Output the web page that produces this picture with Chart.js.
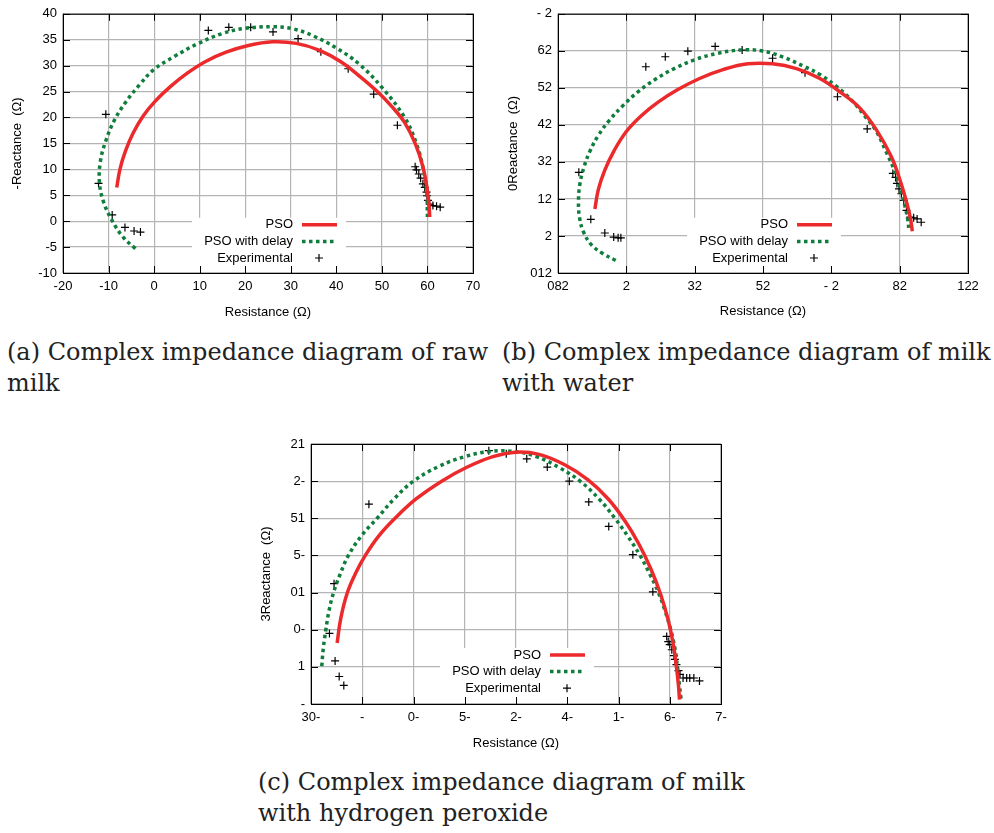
<!DOCTYPE html>
<html>
<head>
<meta charset="utf-8">
<script src="https://cdn.jsdelivr.net/npm/chart.js@4.4.0/dist/chart.umd.min.js"></script>
<style>
  body { margin: 0; background: #fff; width: 994px; height: 833px; position: relative; overflow: hidden; }
  canvas { position: absolute; }
  .cap { position: absolute; font-family: 'DejaVu Serif', serif; font-size: 24px; line-height: 31px; color: #222; white-space: nowrap; }
</style>
</head>
<body>
<canvas id="rawChart" width="490" height="330" style="left:0;top:0"></canvas>
<canvas id="waterChart" width="504" height="330" style="left:490px;top:0"></canvas>
<canvas id="peroxChart" width="490" height="330" style="left:255px;top:430px"></canvas>

<div class="cap" style="left:7px;top:337px">(a) Complex impedance diagram of raw<br>milk</div>
<div class="cap" style="left:502px;top:337px">(b) Complex impedance diagram of milk<br>with water</div>
<div class="cap" style="left:258px;top:767px">(c) Complex impedance diagram of milk<br>with hydrogen peroxide</div>

<script>
// (a) raw milk: resistance (R) and -reactance (X)
const rawPsoR   = [-8.2, -7.5, -6.3, -4.6, -2.4, 0.3, 3.5, 7.2, 11.3, 15.8, 20.7, 26, 31.2, 36.2, 40.9, 45.2, 49, 52.3, 55, 57.3, 59, 60, 60.4, 60.5];
const rawPsoX   = [6.5, 10, 13.5, 17, 20.3, 23.2, 25.9, 28.5, 30.8, 32.6, 33.9, 34.6, 34.3, 33, 30.8, 27.9, 25, 22, 19, 15, 10.5, 5.8, 2.5, 0.8];
const rawDelayR = [-4.1, -6.8, -9.4, -11.2, -12, -11.8, -10.6, -8.7, -6.2, -3.2, 0, 4.5, 9.5, 15, 20, 26, 30.5, 35, 40, 45, 50, 55, 57.6, 59, 59.8, 60];
const rawDelayX = [-5.3, -3.1, 0.4, 4, 7.5, 11.5, 15.5, 19.5, 23, 26.3, 29.3, 31.8, 34.2, 36.2, 37.2, 37.5, 37.1, 35.7, 33.4, 30.3, 25.8, 20, 14.9, 10.4, 5.9, 0.8];
const rawExpR   = [-10.6, -12.2, -9.2, -6.4, -4.4, -3, 11.9, 16.4, 21.2, 26.1, 31.6, 36.6, 42.6, 48.2, 53.4,
                   57.3, 57.6, 58.1, 58.5, 59, 59.4, 59.8, 59.9, 60.1, 60.5, 61.2, 62, 62.8];
const rawExpX   = [20.6, 7.3, 1.2, -1.2, -1.9, -2.1, 36.8, 37.4, 37.4, 36.5, 35.2, 32.7, 29.4, 24.5, 18.5,
                   10.5, 9.9, 9.1, 8.3, 7.2, 6.5, 5.6, 4.9, 4, 3.3, 3, 2.9, 2.7];
const rawTickR  = ['-20', '-10', '0', '10', '20', '30', '40', '50', '60', '70'];
const rawTickX  = ['-10', '-5', '0', '5', '10', '15', '20', '25', '30', '35', '40'];

// (b) milk with water
const waterPsoR   = [-9.2, -8.2, -6.3, -3.6, 0, 4.3, 9.4, 15.2, 21.6, 28.5, 35.6, 42.8, 49.8, 56.5, 62.7, 68.3, 73.1, 77.5, 80.3, 82.2, 83.2, 83.7];
const waterPsoX   = [7.3, 12.5, 17.8, 23, 28.2, 32.4, 36.2, 39.6, 42.6, 45, 46.5, 46.5, 45.2, 42.6, 38.8, 34.6, 28.8, 21.5, 14.5, 8.5, 4.5, 1.3];
const waterDelayR = [-3.1, -6.8, -10.2, -12.5, -13.7, -14, -13.6, -12.4, -10.6, -8.1, -4.9, -1, 3.5, 8.5, 14, 20, 26.5, 33, 39.5, 45.9, 52, 57,
                     61.5, 65.8, 69.6, 73, 76, 78.4, 80.2, 81.6, 82.4, 82.7];
const waterDelayX = [-6.6, -4.8, -2.4, 1, 5, 9.5, 14, 18.6, 23, 27.3, 31.3, 35.2, 39, 42.3, 45.2, 47.6, 49.3, 50.2, 50, 48.3, 45.8, 43.4,
                     40.4, 36.8, 32.6, 28.5, 22.8, 17.8, 12.8, 7.8, 4.2, 1.5];
const waterExpR   = [-13.9, -10.4, -6.3, -3.7, -2.4, -1.6, 5.7, 11.4, 18, 26, 33.9, 42.8, 52.3, 61.8, 70.5,
                     78, 78.8, 79.2, 79.8, 80.5, 81.2, 82, 83.1, 84.1, 85.1, 86.3];
const waterExpX   = [17.2, 4.5, 0.8, -0.3, -0.5, -0.5, 45.7, 48.4, 49.9, 51.2, 50.2, 48, 44.1, 37.6, 28.9,
                     16.9, 15.8, 14.2, 12.7, 11.4, 9.6, 6.9, 5.1, 4.9, 4.6, 3.7];
const waterTickR  = ['082', '2', '32', '52', '- 2', '82', '122'];
const waterTickX  = ['012', '2', '12', '32', '42', '52', '62', '- 2'];

// (c) milk with hydrogen peroxide
const peroxPsoR   = [-24.9, -24.2, -22.9, -21.3, -19.4, -16.8, -13.6, -9.5, -4.5, 0.5, 5.5, 10, 14.5, 19.5, 24, 28,
                     31.3, 34, 36.3, 38.2, 39.7, 40.7, 41.3, 41.7, 41.9];
const peroxPsoX   = [3.2, 6.5, 10, 12.6, 15, 17.6, 20, 22.6, 25, 26.9, 28.3, 28.9, 28.6, 27.2, 25.2, 22.6,
                     19.6, 16.5, 13.2, 9.8, 6.3, 3, 0, -2.5, -4.4];
const peroxDelayR = [-27.9, -27.6, -27.1, -26.5, -25.6, -24.3, -22.7, -20.2, -17.1, -13.8, -10, -5, 0, 5, 9.5, 14, 18.5, 22.5,
                     26.2, 29.3, 31.9, 34.2, 36.1, 37.8, 39.1, 40.2, 41, 41.5, 41.9, 42.2];
const peroxDelayX = [0.1, 2.5, 5, 7.5, 10, 12.5, 15, 17.6, 20, 22.6, 25, 27, 28.3, 29, 29, 28.3, 26.8, 25,
                     22.6, 20, 17.5, 15, 12.5, 10, 7.5, 5, 2.5, 0, -2.5, -4.3];
const peroxExpR   = [-26.4, -25.5, -25.3, -24.5, -23.6, -18.7, 4.7, 8.1, 12.1, 16.1, 20.4, 24.2, 28.1, 32.8, 36.7,
                     39.4, 39.7, 40, 40.4, 40.8, 41, 41.3, 41.7, 42, 42.6, 43.3, 43.9, 44.7, 45.8];
const peroxExpX   = [4.5, 11.2, 0.8, -1.3, -2.5, 21.9, 29.1, 28.7, 28, 26.9, 25, 22.2, 18.9, 15.1, 10.1,
                     4.1, 3.4, 3, 2.3, 1.5, 1, 0.3, -0.5, -1, -1.5, -1.5, -1.5, -1.5, -1.9];
const peroxTickR  = ['30-', '-', '0-', '5-', '2-', '4-', '1-', '6-', '7-'];
const peroxTickX  = ['-', '1', '0-', '01', '5-', '51', '2-', '21'];

const RED = '#ec2a2c';
const GREEN = '#0f7d3c';
const FONT = { family: "'Liberation Sans', Arial, sans-serif", size: 13 };

function pts(r, x) {
    return r.map((v, i) => ({ x: v, y: x[i] }));
}

// gnuplot look: box border, inward ticks, legend inside the plot
const gnuplotFrame = {
    id: 'gnuplotFrame',
    beforeDatasetsDraw(chart) {
        const { ctx, chartArea: a, scales } = chart;
        ctx.save();
        ctx.fillStyle = '#fff';
        ctx.fillRect(a.left + 129, a.top + 204, 154, a.bottom - a.top - 205);

        ctx.strokeStyle = '#000';
        ctx.lineWidth = 1;
        ctx.beginPath();
        scales.x.ticks.forEach(t => {
            const p = Math.round(scales.x.getPixelForValue(t.value)) + 0.5;
            ctx.moveTo(p, a.top); ctx.lineTo(p, a.top + 7);
            ctx.moveTo(p, a.bottom); ctx.lineTo(p, a.bottom - 7);
        });
        scales.y.ticks.forEach(t => {
            const p = Math.round(scales.y.getPixelForValue(t.value)) + 0.5;
            ctx.moveTo(a.left, p); ctx.lineTo(a.left + 7, p);
            ctx.moveTo(a.right, p); ctx.lineTo(a.right - 7, p);
        });
        ctx.stroke();
        ctx.strokeRect(a.left + 0.5, a.top + 0.5, a.right - a.left, a.bottom - a.top);

        ctx.font = '13px ' + FONT.family;
        ctx.textAlign = 'right';
        ctx.textBaseline = 'middle';
        chart.data.datasets.forEach((ds, i) => {
            const y = a.top + 211 + i * 16.6;
            ctx.fillStyle = '#000';
            ctx.fillText(ds.label, a.left + 230, y);
            ctx.beginPath();
            if (ds.showLine) {
                ctx.strokeStyle = ds.borderColor;
                ctx.lineWidth = ds.borderWidth;
                ctx.setLineDash(ds.borderDash || []);
                ctx.moveTo(a.left + 239, y);
                ctx.lineTo(a.left + 274, y);
            } else {
                ctx.strokeStyle = '#000';
                ctx.lineWidth = 1.2;
                ctx.setLineDash([]);
                ctx.moveTo(a.left + 252, y); ctx.lineTo(a.left + 260, y);
                ctx.moveTo(a.left + 256, y - 4); ctx.lineTo(a.left + 256, y + 4);
            }
            ctx.stroke();
        });
        ctx.restore();
    }
};

function impedanceChart(id, c) {
    new Chart(document.getElementById(id), {
        type: 'scatter',
        data: {
            datasets: [{
                label: 'PSO',
                data: pts(c.pso[0], c.pso[1]),
                showLine: true,
                borderColor: RED,
                borderWidth: 3.5,
                pointRadius: 0,
                tension: 0.4
            }, {
                label: 'PSO with delay',
                data: pts(c.delay[0], c.delay[1]),
                showLine: true,
                borderColor: GREEN,
                borderWidth: 3.5,
                borderDash: [3.5, 3.5],
                pointRadius: 0,
                tension: 0.4
            }, {
                label: 'Experimental',
                data: pts(c.exp[0], c.exp[1]),
                pointStyle: 'cross',
                pointRadius: 4,
                borderColor: '#000',
                borderWidth: 1.2
            }]
        },
        options: {
            responsive: false,
            animation: false,
            events: [],
            layout: { padding: c.pad },
            plugins: { legend: { display: false }, tooltip: { enabled: false } },
            scales: {
                x: {
                    type: 'linear', min: c.xr[0], max: c.xr[1],
                    ticks: { stepSize: c.xr[2], padding: 6, color: '#000', font: FONT, callback: (v, i) => c.xt[i] },
                    grid: { color: '#b4b4b4', lineWidth: 1.2, drawTicks: false },
                    border: { display: false },
                    title: { display: true, text: 'Resistance (Ω)', color: '#000', font: FONT, padding: { top: 0, bottom: c.xtp } },
                    afterFit: s => { s.height = c.xh; }
                },
                y: {
                    type: 'linear', min: c.yr[0], max: c.yr[1],
                    ticks: { stepSize: c.yr[2], padding: 6, color: '#000', font: FONT, callback: (v, i) => c.yt[i] },
                    grid: { color: '#b4b4b4', lineWidth: 1.2, drawTicks: false },
                    border: { display: false },
                    title: { display: true, text: c.ytitle, color: '#000', font: FONT, padding: { top: c.ytp, bottom: 0 } },
                    afterFit: s => { s.width = c.yw; }
                }
            }
        },
        plugins: [gnuplotFrame]
    });
}

impedanceChart('rawChart', {
    pso: [rawPsoR, rawPsoX], delay: [rawDelayR, rawDelayX], exp: [rawExpR, rawExpX],
    xr: [-20, 70, 10], yr: [-10, 40, 5], xt: rawTickR, yt: rawTickX,
    ytitle: '-Reactance  (Ω)', pad: { left: 0, top: 13, right: 17, bottom: 0 },
    yw: 63, xh: 57, xtp: 10, ytp: 10
});

impedanceChart('waterChart', {
    pso: [waterPsoR, waterPsoX], delay: [waterDelayR, waterDelayX], exp: [waterExpR, waterExpX],
    xr: [-20, 100, 20], yr: [-10, 60, 10], xt: waterTickR, yt: waterTickX,
    ytitle: '0Reactance  (Ω)', pad: { left: 0, top: 13, right: 26, bottom: 0 },
    yw: 68, xh: 57, xtp: 10.5, ytp: 15.5
});

impedanceChart('peroxChart', {
    pso: [peroxPsoR, peroxPsoX], delay: [peroxDelayR, peroxDelayX], exp: [peroxExpR, peroxExpX],
    xr: [-30, 50, 10], yr: [-5, 30, 5], xt: peroxTickR, yt: peroxTickX,
    ytitle: '3Reactance  (Ω)', pad: { left: 0, top: 14, right: 24, bottom: 0 },
    yw: 56, xh: 56, xtp: 9, ytp: 4
});
</script>
</body>
</html>
